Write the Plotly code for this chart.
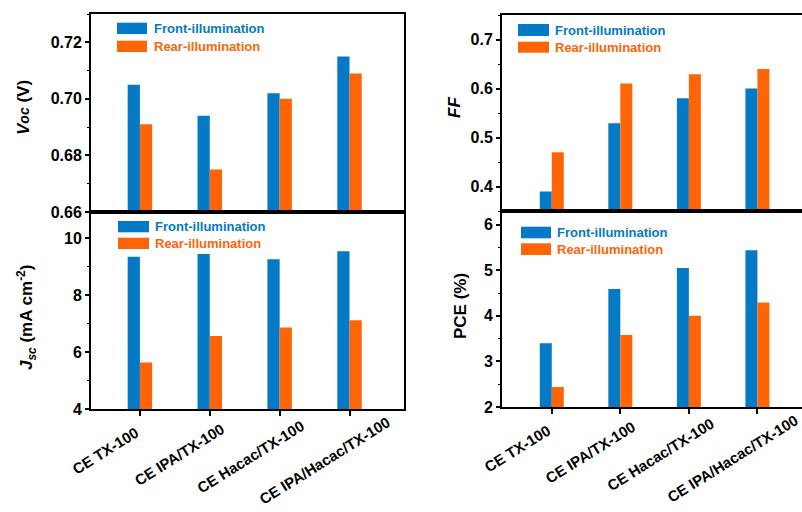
import plotly.graph_objects as go

categories = ["CE TX-100", "CE IPA/TX-100", "CE Hacac/TX-100", "CE IPA/Hacac/TX-100"]
series_names = ["Front-illumination", "Rear-illumination"]

voc_front = [0.705, 0.694, 0.702, 0.715]
voc_rear = [0.691, 0.675, 0.700, 0.709]
ff_front = [0.39, 0.529, 0.58, 0.60]
ff_rear = [0.47, 0.61, 0.629, 0.64]
jsc_front = [9.36, 9.45, 9.27, 9.55]
jsc_rear = [5.64, 6.57, 6.87, 7.12]
pce_front = [3.40, 4.59, 5.05, 5.44]
pce_rear = [2.44, 3.58, 4.00, 4.29]

BLUE = "#0479c6"
ORANGE = "#ff6407"
W, H = 802, 512
FONT = "Arial, Liberation Sans, sans-serif"


def px(x):
    return x / W


def py(y):
    return 1 - y / H


fig = go.Figure()

panels = [
    ("x", "y", voc_front, voc_rear),
    ("x2", "y2", ff_front, ff_rear),
    ("x3", "y3", jsc_front, jsc_rear),
    ("x4", "y4", pce_front, pce_rear),
]
for xa, ya, fr, rr in panels:
    fig.add_trace(go.Bar(x=categories, y=fr, name=series_names[0], marker=dict(color=BLUE, line=dict(width=0)),
                         xaxis=xa, yaxis=ya, showlegend=False))
    fig.add_trace(go.Bar(x=categories, y=rr, name=series_names[1], marker=dict(color=ORANGE, line=dict(width=0)),
                         xaxis=xa, yaxis=ya, showlegend=False))

LX = [px(91), px(404)]
RX = [px(502), 1.0]
LTOP = [py(212), py(14)]
LBOT = [py(409), py(212)]
RTOP = [py(211), py(15)]
RBOT = [py(407), py(211)]

tickfont = dict(family=FONT, size=16, color="black", weight="bold")
xtickfont = dict(family=FONT, size=15, color="black", weight="bold")


def xaxis(domain, anchor, rng, ticks):
    d = dict(domain=domain, anchor=anchor, type="category", categoryorder="array", categoryarray=categories,
             range=rng, showline=True, linecolor="black", linewidth=2, mirror=True, automargin=False,
             showgrid=False, zeroline=False, fixedrange=True, showticklabels=False)
    if ticks:
        d.update(ticks="outside", ticklen=5, tickwidth=1.5, tickcolor="black")
    else:
        d.update(ticks="")
    return d


def yaxis(domain, anchor, rng, dtick, fmt, mirror):
    return dict(domain=domain, anchor=anchor, range=rng, dtick=dtick, tick0=0, tickformat=fmt,
                showline=True, linecolor="black", linewidth=2, mirror=mirror, automargin=False,
                ticks="outside", ticklen=4, tickwidth=1.5, tickcolor="black",
                minor=dict(dtick=dtick / 2, ticks="outside", ticklen=2, tickwidth=1, tickcolor="black", showgrid=False),
                showgrid=False, zeroline=False, tickfont=tickfont, fixedrange=True)


fig.update_layout(
    width=W, height=H,
    margin=dict(l=0, r=0, t=0, b=0, autoexpand=False),
    paper_bgcolor="white", plot_bgcolor="white",
    barmode="group", bargap=0.65, bargroupgap=0,
    xaxis=xaxis(LX, "y", [-0.70, 3.78], False),
    yaxis=yaxis(LTOP, "x", [0.66, 0.73], 0.02, ".2f", True),
    xaxis2=xaxis(RX, "y2", [-0.726, 3.65], False),
    yaxis2=yaxis(RTOP, "x2", [0.35, 0.75], 0.1, ".1f", False),
    xaxis3=xaxis(LX, "y3", [-0.70, 3.78], True),
    yaxis3=yaxis(LBOT, "x3", [4, 10.93], 2, "d", True),
    xaxis4=xaxis(RX, "y4", [-0.726, 3.65], True),
    yaxis4=yaxis(RBOT, "x4", [2, 6.3], 1, "d", False),
    showlegend=False,
)

legends = [
    (117, 147, 22.7, 34, 40.7, 52, 152),
    (518, 549, 24, 36, 41.7, 52.7, 553),
    (118, 149, 221, 232.3, 237.7, 249, 153),
    (521, 551, 226.7, 238.3, 243.3, 255, 555),
]
shapes = []
annotations = []
for x0, x1, by0, by1, oy0, oy1, tx in legends:
    for (y0, y1), col, name in (((by0, by1), BLUE, series_names[0]), ((oy0, oy1), ORANGE, series_names[1])):
        shapes.append(dict(type="rect", xref="paper", yref="paper", x0=px(x0), x1=px(x1), y0=py(y1), y1=py(y0),
                           fillcolor=col, line=dict(width=0)))
        annotations.append(dict(xref="paper", yref="paper", x=px(tx), y=py((y0 + y1) / 2), text=name,
                                showarrow=False, xanchor="left", yanchor="middle",
                                font=dict(family=FONT, size=13, color=col, weight="bold")))

# Angled category labels under the bottom panels (Origin-style placement)
for xref, yref in (("x3", "y3 domain"), ("x4", "y4 domain")):
    for cat in categories:
        n = len(cat)
        annotations.append(dict(xref=xref, yref=yref, x=cat, y=0, text=cat, textangle=-32,
                                showarrow=False, xanchor="center", yanchor="middle",
                                xshift=-34.5 + 0.95 * (n - 9), yshift=-(41 + 1.0 * (n - 9)),
                                font=xtickfont))

titlefont = dict(family=FONT, size=17, color="black", weight="bold")
titles = [
    ("<i>V</i><span style='font-size:14px'><i>oc</i></span> (V)", 23, 108),
    ("<i>J</i><sub><i>sc</i></sub> (mA cm<sup>-2</sup>)", 26, 318),
    ("<i>FF</i>", 454, 108),
    ("PCE (%)", 460, 306),
]
for text, x, y in titles:
    annotations.append(dict(xref="paper", yref="paper", x=px(x), y=py(y), text=text, textangle=-90,
                            showarrow=False, xanchor="center", yanchor="middle", font=titlefont))

fig.update_layout(shapes=shapes, annotations=annotations)

fig.write_html("out.html", config={"displayModeBar": False},
               post_script="document.body.style.margin='0';document.body.style.padding='0';document.body.style.overflow='hidden';")
